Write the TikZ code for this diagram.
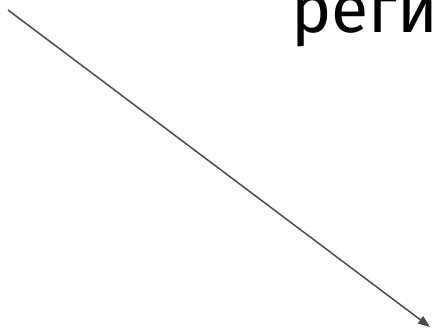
\documentclass[tikz,border=0pt]{standalone}
\usepackage{fontspec}
\setmainfont{Fira Sans}
\usetikzlibrary{arrows.meta}
\begin{document}
\begin{tikzpicture}[x=1pt,y=1pt,
  conn/.style={draw=black!70,line width=1.5pt,-{Triangle[length=12pt,width=9pt]}},
  lbl/.style={anchor=base west,inner sep=0pt,font=\fontsize{68}{72}\selectfont,text=black}]
\clip (0,0) rectangle (432,331);
\useasboundingbox (0,0) rectangle (432,331);
\coordinate (s) at (8,321);
\coordinate (e) at (430,4);
\draw[conn] (s) -- (e);
\node[lbl] (t) at (291,298) {реги};
\end{tikzpicture}
\end{document}
